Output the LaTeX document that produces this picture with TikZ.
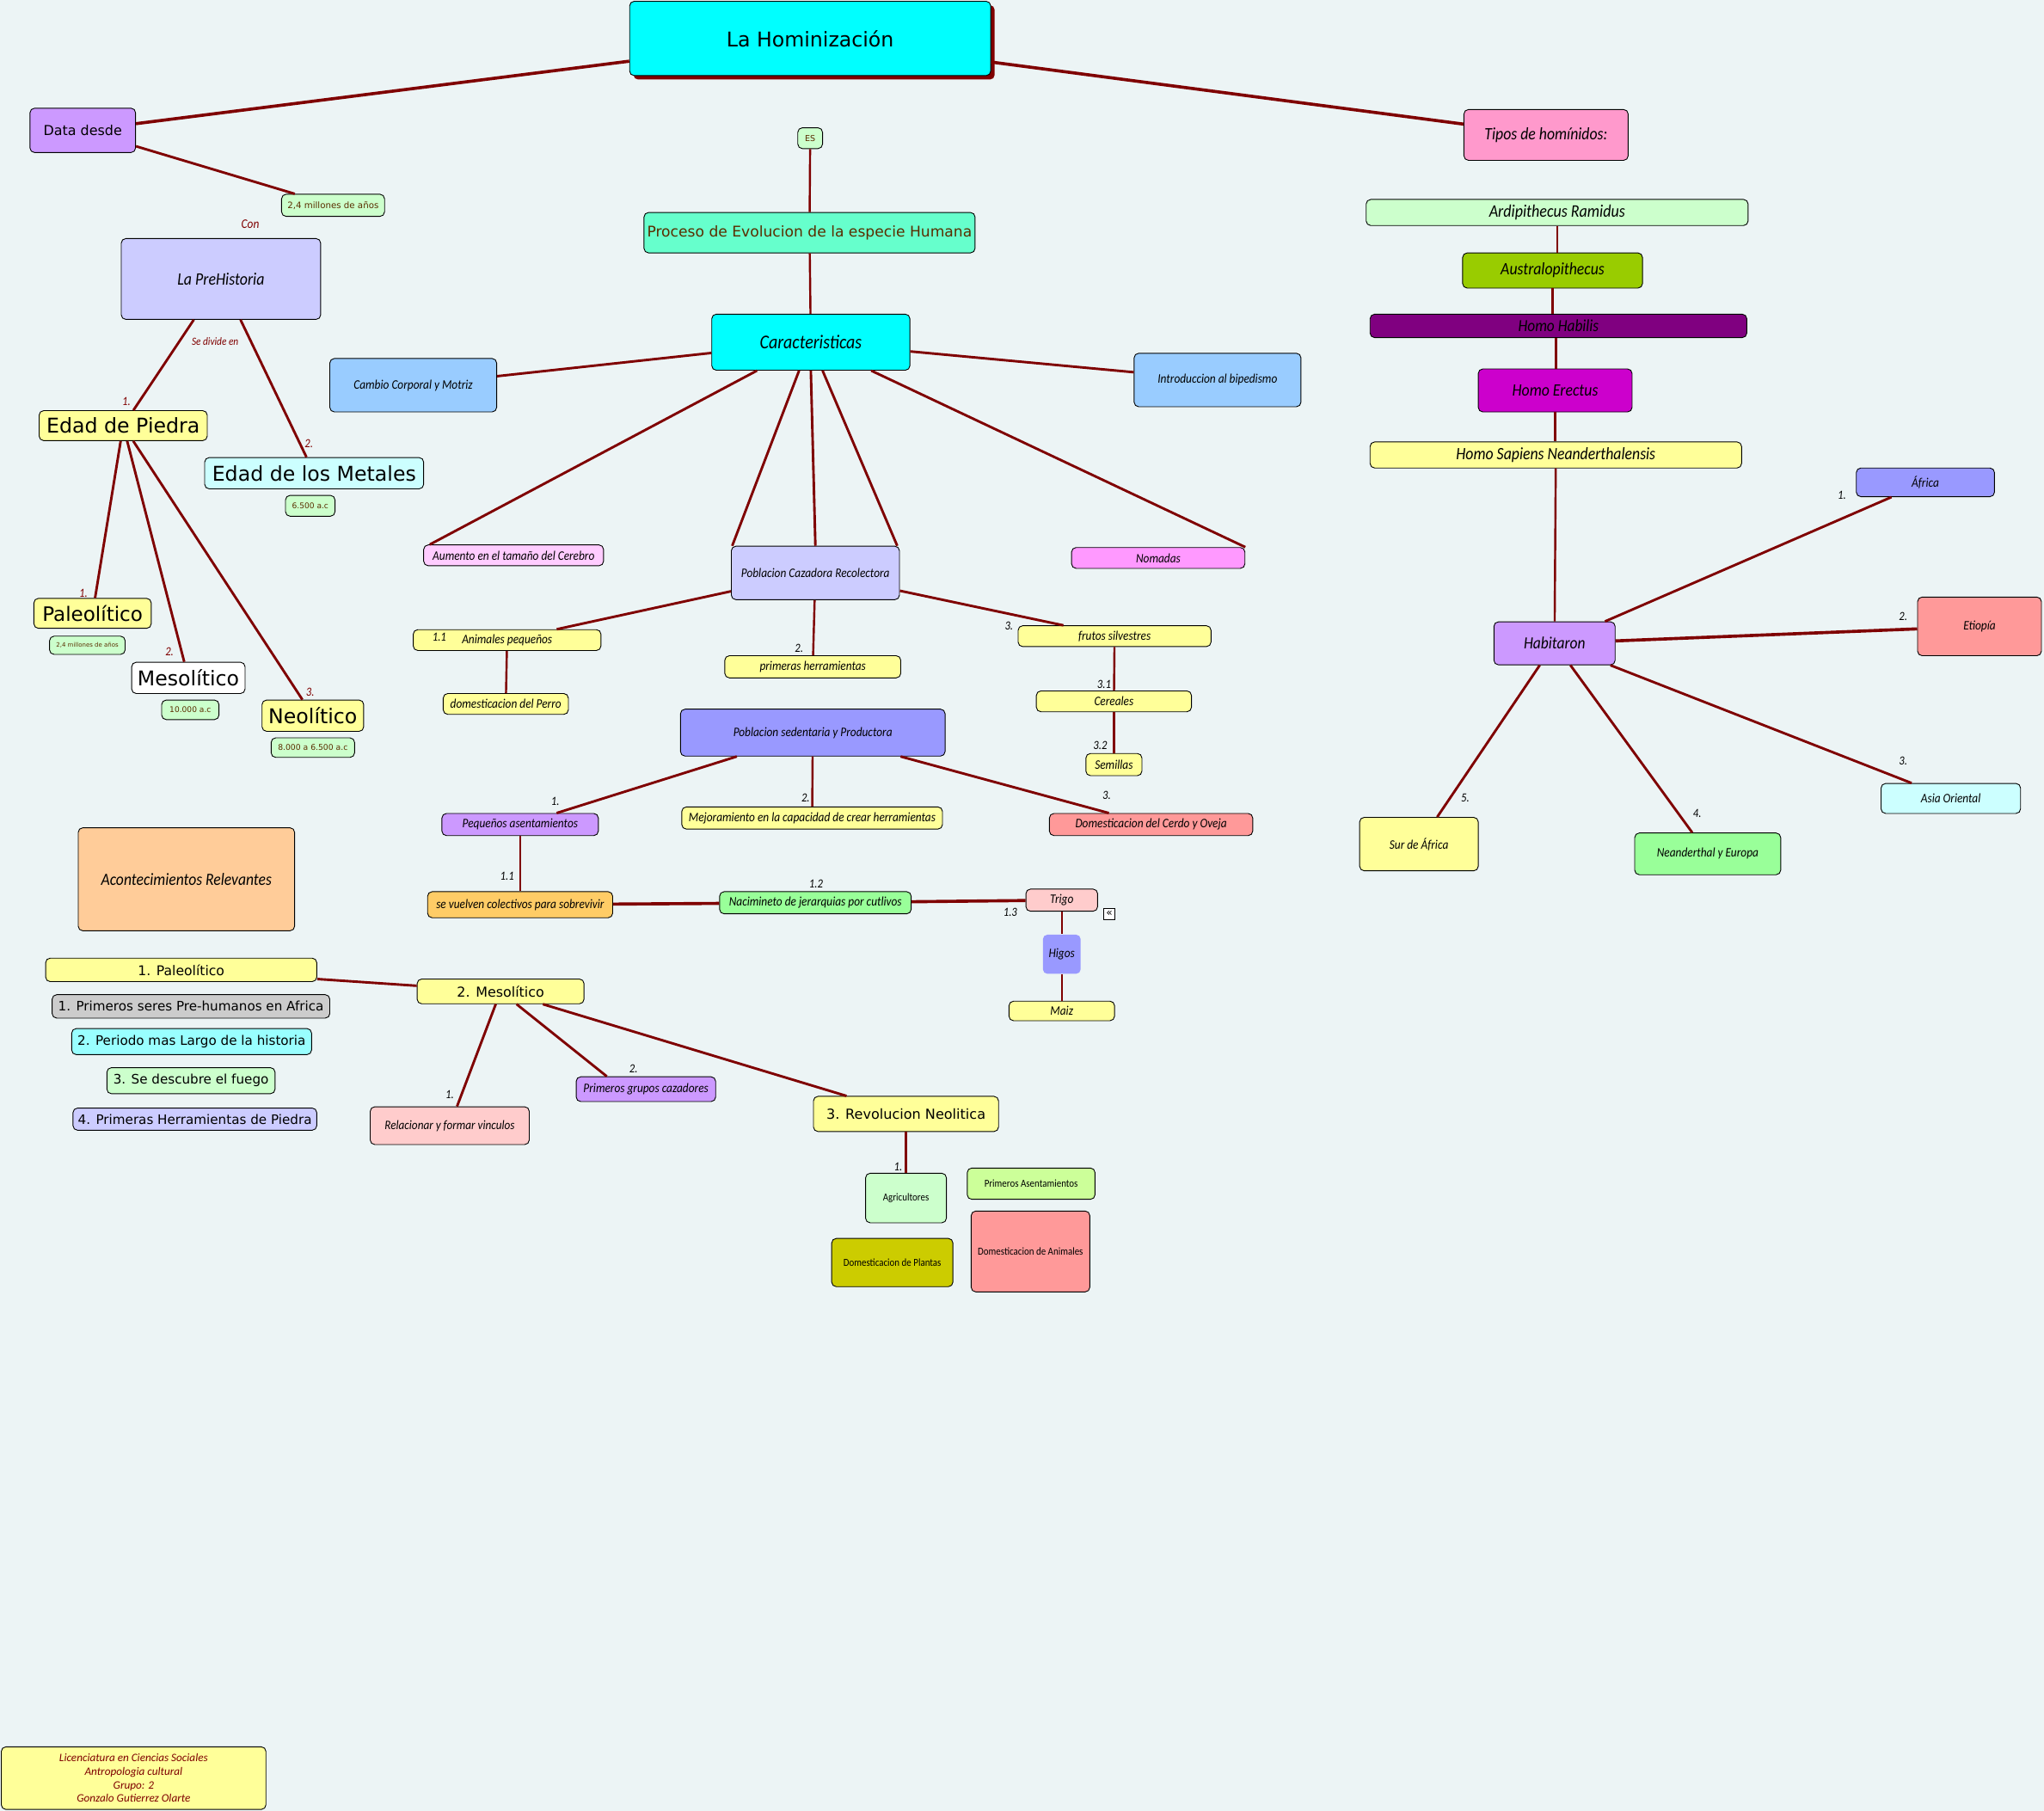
\documentclass[tikz,border=0pt]{standalone}
\usepackage{fontspec}
\setmainfont{DejaVu Sans}
\newfontfamily\itf{Carlito}[FakeStretch=0.88]
\newfontfamily\ftf{Carlito}
\usetikzlibrary{calc}
\definecolor{bgc}{RGB}{236,244,245}
\definecolor{linec}{HTML}{7F0000}
\definecolor{brn}{HTML}{5A2D00}
\definecolor{cCyan}{HTML}{00FFFF}
\definecolor{cLila}{HTML}{CC99FF}
\definecolor{cLgreen}{HTML}{CCFFCC}
\definecolor{cLblue}{HTML}{CCCCFF}
\definecolor{cYel}{HTML}{FFFF99}
\definecolor{cLcyan}{HTML}{CCFFFF}
\definecolor{cMint}{HTML}{66FFCC}
\definecolor{cSky}{HTML}{99CCFF}
\definecolor{cLpink}{HTML}{FFCCFF}
\definecolor{cPink}{HTML}{FF99FF}
\definecolor{cPeri}{HTML}{9999FF}
\definecolor{cSalmon}{HTML}{FF9999}
\definecolor{cOrange}{HTML}{FFCC66}
\definecolor{cGreen}{HTML}{99FF99}
\definecolor{cRose}{HTML}{FFCCCC}
\definecolor{cPeach}{HTML}{FFCC99}
\definecolor{cGray}{HTML}{CCCCCC}
\definecolor{cAqua}{HTML}{99FFFF}
\definecolor{cLime}{HTML}{CCFF99}
\definecolor{cOlive}{HTML}{CCCC00}
\definecolor{cHot}{HTML}{FF99CC}
\definecolor{cAus}{HTML}{99CC00}
\definecolor{cPurple}{HTML}{800080}
\definecolor{cMagenta}{HTML}{CC00CC}
\newcommand\fsz[1]{\fontsize{#1}{#1}\selectfont}
\begin{document}
\begin{tikzpicture}[x=1pt,y=-1pt,
  bx/.style={draw=black, line width=0.6pt, rounded corners=3.5pt, inner sep=0pt, align=center},
  wh/.style 2 args={minimum width=#1pt, minimum height=#2pt},
  it/.style={font={\itf\itshape\fsz{#1}}},
  vd/.style={font={\fsz{#1}}},
  lk/.style={draw=linec, line width=1.9pt},
  lkt/.style={draw=linec, line width=2.4pt},
  lkn/.style={draw=linec, line width=1.6pt},
  lbl/.style={font={\itf\itshape\fsz{9.5}}, inner sep=0pt},
  rlbl/.style={lbl, text=linec}]
\useasboundingbox (0,0) rectangle (1568,1389.2);
\fill[bgc] (0,0) rectangle (1568,1389.2);

% title
\fill[linec, rounded corners=3.5pt] (486,4) rectangle (763,61);
\node[bx,fill=cCyan,wh={277}{57},vd=15.6] (title) at (621.5,29.5) {La Hominización};

% left branch
\node[bx,fill=cLila,wh={81}{34},vd=10.5] (datadesde) at (63.5,100) {Data desde};
\node[bx,fill=cLgreen,wh={79}{17},vd=6.75,text=brn] (mill1) at (255.5,157.5) {2,4 millones de años};
\node[rlbl,font={\itf\itshape\fsz{10}}] (lcon) at (192,172) {Con};
\node[bx,fill=cLblue,wh={153}{62},it=13.4] (prehist) at (169.5,214) {La PreHistoria};
\node[rlbl,font={\itf\itshape\fsz{8.5}}] (ldiv) at (165,262) {Se divide en};
\node[bx,fill=cYel,wh={129}{23},vd=15.6] (piedra) at (94.5,326.5) {Edad de Piedra};
\node[bx,fill=cLcyan,wh={168}{24},vd=15.6] (metales) at (241,363) {Edad de los Metales};
\node[bx,fill=cLgreen,wh={38}{16},vd=6,text=brn] (m6500) at (238,388) {6.500 a.c};
\node[rlbl] (lp1) at (97,308) {1.};
\node[rlbl] (lp2) at (237,340) {2.};
\node[bx,fill=cYel,wh={90}{23},vd=15.2] (paleo) at (71,470.5) {Paleolítico};
\node[bx,fill=cLgreen,wh={58}{14},vd=4.6,text=brn] (mill2) at (67,495) {2,4 millones de años};
\node[bx,fill=white,wh={87}{24},vd=15.6] (meso) at (144.5,520) {Mesolítico};
\node[bx,fill=cLgreen,wh={44}{15},vd=6,text=brn] (m10000) at (146,544.5) {10.000 a.c};
\node[bx,fill=cYel,wh={78}{24},vd=15.6] (neo) at (240,549) {Neolítico};
\node[bx,fill=cLgreen,wh={64}{15},vd=6.1,text=brn] (m8000) at (240,573.5) {8.000 a 6.500 a.c};
\node[rlbl] (lq1) at (64,455) {1.};
\node[rlbl] (lq2) at (130,500) {2.};
\node[rlbl] (lq3) at (238,531) {3.};

% center
\node[bx,fill=cLgreen,wh={19}{16},vd=6.3,text=brn] (es) at (621.5,106) {ES};
\node[bx,fill=cMint,wh={254}{31},vd=11.3,text=brn] (proceso) at (621,178.5) {Proceso de Evolucion de la especie Humana};
\node[bx,fill=cCyan,wh={152}{43},it=15] (caract) at (622,262.5) {Caracteristicas};
\node[bx,fill=cSky,wh={128}{41},it=10] (cambio) at (317,295.5) {Cambio Corporal y Motriz};
\node[bx,fill=cSky,wh={128}{41},it=10] (intro) at (934,291.5) {Introduccion al bipedismo};
\node[bx,fill=cLpink,wh={138}{16},it=10] (aumento) at (394,426) {Aumento en el tamaño del Cerebro};
\node[bx,fill=cPink,wh={133}{16},it=10] (nomadas) at (888.5,428) {Nomadas};
\node[bx,fill=cLblue,wh={129}{41},it=10] (pcr) at (625.5,439.5) {Poblacion Cazadora Recolectora};
\node[bx,fill=cYel,wh={144}{16},it=10] (animales) at (389,491) {Animales pequeños};
\node[bx,fill=cYel,wh={96}{16},it=10] (perro) at (388,540) {domesticacion del Perro};
\node[bx,fill=cYel,wh={135}{17},it=10] (herr) at (623.5,511.5) {primeras herramientas};
\node[bx,fill=cYel,wh={148}{16},it=10] (frutos) at (855,488) {frutos silvestres};
\node[bx,fill=cYel,wh={119}{16},it=10] (cereales) at (854.5,538) {Cereales};
\node[bx,fill=cYel,wh={43}{17},it=10] (semillas) at (854.5,586.5) {Semillas};
\node[lbl] (la11) at (337,489) {1.1};
\node[lbl] (la2) at (613,497) {2.};
\node[lbl] (la3) at (774,480) {3.};
\node[lbl] (la31) at (847,525) {3.1};
\node[lbl] (la32) at (844,572) {3.2};

\node[bx,fill=cPeri,wh={203}{36},it=10] (psp) at (623.5,562) {Poblacion sedentaria y Productora};
\node[bx,fill=cLila,wh={120}{17},it=10] (peq) at (399,632.5) {Pequeños asentamientos};
\node[bx,fill=cYel,wh={200}{17},it=10] (mejor) at (623,627.5) {Mejoramiento en la capacidad de crear herramientas};
\node[bx,fill=cSalmon,wh={156}{17},it=10] (cerdo) at (883,632.5) {Domesticacion del Cerdo y Oveja};
\node[bx,fill=cOrange,wh={142}{20},it=10] (colect) at (399,694) {se vuelven colectivos para sobrevivir};
\node[bx,fill=cGreen,wh={147}{17},it=10] (nacim) at (625.5,692.5) {Nacimineto de jerarquias por cutlivos};
\node[bx,fill=cRose,wh={55}{17},it=10] (trigo) at (814.5,690.5) {Trigo};
\node[bx,draw=none,fill=cPeri,wh={29}{30},it=10] (higos) at (814.5,732) {Higos};
\node[bx,fill=cYel,wh={81}{15},it=10] (maiz) at (814.5,775.5) {Maiz};
\node[draw=black,fill=white,line width=0.5pt,inner sep=0pt,minimum size=8.5pt,font={\fsz{8}}] (icon) at (851,701) {«};
\node[lbl] (lb1) at (426,615) {1.};
\node[lbl] (lb2) at (618,612) {2.};
\node[lbl] (lb3) at (849,610) {3.};
\node[lbl] (lb11) at (389,672) {1.1};
\node[lbl] (lb12) at (626,678) {1.2};
\node[lbl] (lb13) at (775,700) {1.3};

% events
\node[bx,fill=cPeach,wh={166}{79},it=13.2] (acont) at (143,674.5) {Acontecimientos Relevantes};
\node[bx,fill=cYel,wh={208}{18},vd=10.3] (e1) at (139,744) {1. Paleolítico};
\node[bx,fill=cGray,wh={213}{18},vd=10] (e2) at (146.5,772) {1. Primeros seres Pre-humanos en Africa};
\node[bx,fill=cAqua,wh={184}{20},vd=10] (e3) at (147,799) {2. Periodo mas Largo de la historia};
\node[bx,fill=cLgreen,wh={129}{20},vd=10] (e4) at (146.5,829) {3. Se descubre el fuego};
\node[bx,fill=cLblue,wh={187}{17},vd=10] (e5) at (149.5,858.5) {4. Primeras Herramientas de Piedra};
\node[bx,fill=cYel,wh={128}{19},vd=10.5] (meso2) at (384,760.5) {2. Mesolítico};
\node[bx,fill=cRose,wh={122}{29},it=9.9] (relac) at (345,863.5) {Relacionar y formar vinculos};
\node[bx,fill=cLila,wh={107}{19},it=10] (grupos) at (495.5,835.5) {Primeros grupos cazadores};
\node[bx,fill=cYel,wh={142}{27},vd=10.6] (revol) at (695,854.5) {3. Revolucion Neolitica};
\node[bx,fill=cLgreen,wh={62}{38},font={\itf\fsz{8.2}}] (agric) at (695,919) {Agricultores};
\node[bx,fill=cLime,wh={98}{24},font={\itf\fsz{8.2}}] (primasent) at (791,908) {Primeros Asentamientos};
\node[bx,fill=cOlive,wh={93}{37},font={\itf\fsz{8.2}}] (plantas) at (684.5,968.5) {Domesticacion de Plantas};
\node[bx,fill=cSalmon,wh={91}{62},font={\itf\fsz{8.2}}] (animdom) at (790.5,960) {Domesticacion de Animales};
\node[lbl] (lc1) at (345,840) {1.};
\node[lbl] (lc2) at (486,820) {2.};
\node[lbl] (lc3) at (689,895) {1.};

% right branch
\node[bx,fill=cHot,wh={126}{39},it=13.3] (tipos) at (1186,103.5) {Tipos de homínidos:};
\node[bx,fill=cLgreen,wh={293}{20},it=13.5] (ardi) at (1194.5,163) {Ardipithecus Ramidus};
\node[bx,fill=cAus,wh={138}{27},it=13.3] (austr) at (1191,207.5) {Australopithecus};
\node[bx,fill=cPurple,wh={289}{18},it=13] (habilis) at (1195.5,250) {Homo Habilis};
\node[bx,fill=cMagenta,wh={118}{33},it=13.3] (erectus) at (1193,299.5) {Homo Erectus};
\node[bx,fill=cYel,wh={285}{20},it=13.3] (sapiens) at (1193.5,349) {Homo Sapiens Neanderthalensis};
\node[bx,fill=cLila,wh={93}{33},it=13.1] (habit) at (1192.5,493.5) {Habitaron};
\node[bx,fill=cPeri,wh={106}{22},it=10] (africa) at (1477,370) {África};
\node[bx,fill=cSalmon,wh={95}{45},it=10] (etiopia) at (1518.5,480.5) {Etiopía};
\node[bx,fill=cLcyan,wh={107}{23},it=10] (asia) at (1496.5,612.5) {Asia Oriental};
\node[bx,fill=cGreen,wh={112}{32},it=10] (neand) at (1310,655) {Neanderthal y Europa};
\node[bx,fill=cYel,wh={91}{41},it=10] (sur) at (1088.5,647.5) {Sur de África};
\node[lbl] (ld1) at (1413,380) {1.};
\node[lbl] (ld2) at (1460,473) {2.};
\node[lbl] (ld3) at (1460,584) {3.};
\node[lbl] (ld4) at (1302,624) {4.};
\node[lbl] (ld5) at (1124,612) {5.};

% footer
\node[bx,fill=cYel,wh={203}{48},text=linec,font={\ftf\itshape\fontsize{8.7}{10.4}\selectfont}] (foot) at (102.5,1364) {Licenciatura en Ciencias Sociales\\Antropologia cultural\\Grupo: 2\\Gonzalo Gutierrez Olarte};

% connectors
\draw[lkt] (title) -- (datadesde);
\draw[lkt] (title) -- (tipos);
\draw[lk] (datadesde) -- (mill1);
\draw[lk] (prehist) -- (piedra);
\draw[lk] (prehist) -- (metales);
\draw[lk] (piedra) -- (paleo);
\draw[lk] (piedra) -- (meso);
\draw[lk] (piedra) -- (neo);
\draw[lkn] (es) -- (proceso);
\draw[lkn] (proceso) -- (caract);
\draw[lk] (caract) -- (cambio);
\draw[lk] (caract) -- (intro);
\draw[lk] ([xshift=35pt]caract.south west) -- ([xshift=5pt]aumento.north west);
\draw[lk] ([xshift=-30pt]caract.south east) -- (nomadas.north east);
\draw[lk] ([xshift=-9pt]caract.south) -- ([xshift=1pt]pcr.north west);
\draw[lk] (caract.south) -- (pcr.north);
\draw[lk] ([xshift=9pt]caract.south) -- ([xshift=-2pt]pcr.north east);
\draw[lk] (pcr) -- (animales);
\draw[lkn] (animales) -- (perro);
\draw[lkn] (pcr) -- (herr);
\draw[lk] (pcr) -- (frutos);
\draw[lkn] (frutos) -- (cereales);
\draw[lkn] (cereales) -- (semillas);
\draw[lk] (psp) -- (peq);
\draw[lkn] (psp) -- (mejor);
\draw[lk] (psp) -- (cerdo);
\draw[lkn] (peq) -- (colect);
\draw[lkt] (colect) -- (nacim);
\draw[lkt] (nacim) -- (trigo);
\draw[lkn] (trigo) -- (higos);
\draw[lkn] (higos) -- (maiz);
\draw[lk] (e1) -- (meso2);
\draw[lk] (meso2) -- (relac);
\draw[lk] (meso2) -- ([xshift=-30pt]grupos.north);
\draw[lk] (meso2) -- (revol);
\draw[lkn] (revol) -- (agric);
\draw[lkn] (ardi.south) -- (ardi.south |- austr.north);
\draw[lkn] (austr.south) -- (austr.south |- habilis.north);
\draw[lkn] (habilis.south) ++(-2pt,0) -- ($(habilis.south |- erectus.north)+(-2pt,0)$);
\draw[lkn] (erectus.south) -- (erectus.south |- sapiens.north);
\draw[lkn] (sapiens) -- (habit);
\draw[lk] (habit) -- (africa);
\draw[lkt] (habit) -- (etiopia);
\draw[lk] (habit) -- (asia);
\draw[lk] (habit) -- (neand);
\draw[lk] (habit) -- (sur);
\end{tikzpicture}
\end{document}
